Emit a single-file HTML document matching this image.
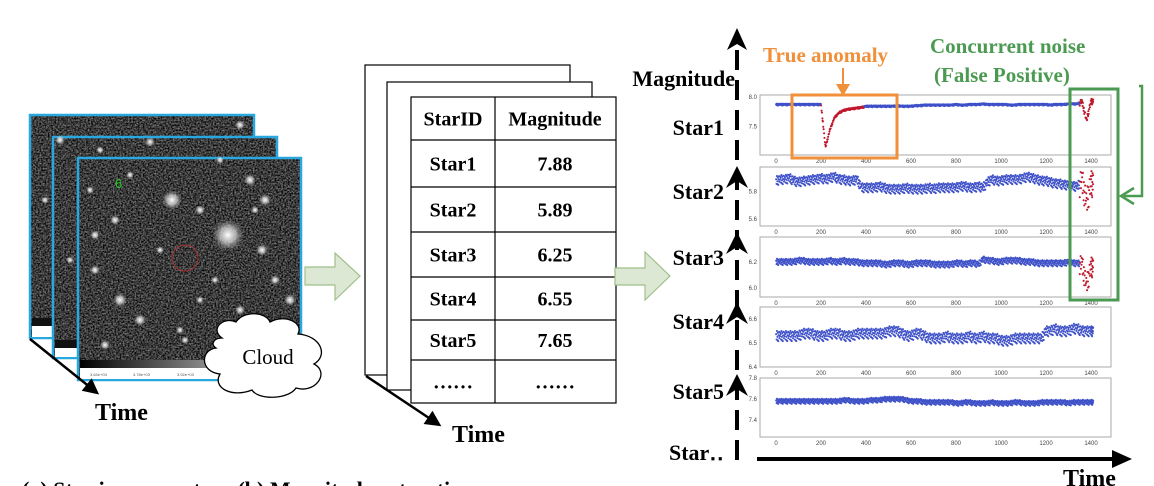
<!DOCTYPE html>
<html><head><meta charset="utf-8"><style>
html,body{margin:0;padding:0;background:#fff;width:1154px;height:486px;overflow:hidden}
svg{display:block;font-family:"Liberation Serif",serif}
.b{font-weight:bold}
</style></head><body>
<svg id="fig" width="1154" height="486" viewBox="0 0 1154 486">
<defs>
<marker id="ahb" markerWidth="16" markerHeight="16" refX="12" refY="8" orient="auto" markerUnits="userSpaceOnUse"><path d="M0,0 L16,8 L0,16 Z" fill="#000"/></marker>
<linearGradient id="cbar"><stop offset="0" stop-color="#000"/><stop offset="1" stop-color="#eee"/></linearGradient>
<radialGradient id="glow"><stop offset="0" stop-color="#fff"/><stop offset="0.5" stop-color="#ddd" stop-opacity="0.7"/><stop offset="1" stop-color="#888" stop-opacity="0"/></radialGradient>
<filter id="grain" x="0" y="0" width="100%" height="100%" color-interpolation-filters="sRGB">
 <feTurbulence type="fractalNoise" baseFrequency="0.6" numOctaves="2" seed="5" result="t"/>
 <feColorMatrix in="t" type="matrix" values="0.9 0 0 0 -0.22  0.9 0 0 0 -0.22  0.9 0 0 0 -0.22  0 0 0 0 1"/>
</filter>
</defs>

<g>
 <rect x="30" y="115" width="224" height="223" fill="#333"/>
 <rect x="30" y="115" width="224" height="223" fill="#333" filter="url(#grain)"/>
 <rect x="30" y="115" width="224" height="223" fill="none" stroke="#29a8e0" stroke-width="2.5"/>
 <rect x="32" y="318" width="22" height="8" fill="#111"/>
 <rect x="32" y="326" width="22" height="11" fill="#fff"/>
 <rect x="53" y="137" width="224" height="221" fill="#333"/>
 <rect x="53" y="137" width="224" height="221" fill="#333" filter="url(#grain)"/>
 <rect x="53" y="137" width="224" height="221" fill="none" stroke="#29a8e0" stroke-width="2.5"/>
 <rect x="55" y="340" width="22" height="8" fill="#111"/>
 <rect x="55" y="348" width="22" height="9" fill="#fff"/>
 <rect x="78" y="158" width="223" height="222" fill="#333"/>
 <rect x="78" y="158" width="223" height="222" fill="#333" filter="url(#grain)"/>
 <rect x="78" y="158" width="223" height="222" fill="none" stroke="#29a8e0" stroke-width="2.5"/>
 <rect x="80" y="360" width="219" height="8" fill="url(#cbar)"/>
 <rect x="80" y="368" width="219" height="11" fill="#fff"/>
 <text x="90" y="376" font-size="4" fill="#555" font-family="Liberation Sans,sans-serif">3.64e+03</text>
 <text x="133" y="376" font-size="4" fill="#555" font-family="Liberation Sans,sans-serif">3.78e+03</text>
 <text x="177" y="376" font-size="4" fill="#555" font-family="Liberation Sans,sans-serif">3.92e+03</text>
 <g id="stars"></g>
 <text x="115" y="188" font-size="13" fill="#2c2" font-family="Liberation Sans,sans-serif">6</text>
 <circle cx="185" cy="258" r="13" fill="none" stroke="#a33" stroke-width="1"/>
</g>
<path d="M222,338 C210,330 222,316 236,322 C244,310 266,312 270,322 C284,314 304,322 298,334 C322,336 328,356 314,364 C330,372 316,394 296,388 C288,400 258,400 252,390 C232,398 212,388 220,374 C200,372 200,350 216,348 C210,344 214,338 222,338 Z" fill="#fff" stroke="#000" stroke-width="1.3"/>
<text x="268" y="364" font-size="21" text-anchor="middle">Cloud</text>
<line x1="30" y1="339" x2="96" y2="392" stroke="#000" stroke-width="2.5" marker-end="url(#ahb)"/>
<text x="95" y="420" font-size="24" class="b">Time</text>

<path d="M305,267 L335,267 L335,253 L360,276 L335,300 L335,285 L305,285 Z" fill="#dce8d3" stroke="#9fbf8a" stroke-width="1.2"/>

<g>
 <rect x="365" y="65" width="205" height="310" fill="#fff" stroke="#000" stroke-width="1.2"/>
 <rect x="387" y="82" width="205" height="308" fill="#fff" stroke="#000" stroke-width="1.2"/>
 <rect x="411" y="97" width="205" height="306" fill="#fff" stroke="#000" stroke-width="1.2"/>
 <line x1="495" y1="97" x2="495" y2="403" stroke="#000" stroke-width="1.2"/>
 <g id="tbl"></g>
</g>
<line x1="366" y1="376" x2="438" y2="424" stroke="#000" stroke-width="2.5" marker-end="url(#ahb)"/>
<text x="452" y="442" font-size="24" class="b">Time</text>

<path d="M615,268 L645,268 L645,252 L670,276 L645,300 L645,285 L615,285 Z" fill="#dce8d3" stroke="#9fbf8a" stroke-width="1.2"/>

<line x1="737" y1="460" x2="737" y2="45" stroke="#000" stroke-width="4" stroke-dasharray="20,10"/>
<path d="M727,50 L737,28 L747,50 L737,44 Z" fill="#000"/>
<path d="M726,188 L737,166 L748,188 L737,181 Z" fill="#000"/>
<path d="M726,254 L737,232 L748,254 L737,247 Z" fill="#000"/>
<path d="M726,324 L737,302 L748,324 L737,317 Z" fill="#000"/>
<path d="M726,396 L737,374 L748,396 L737,389 Z" fill="#000"/>
<text x="735" y="86" font-size="22" class="b" text-anchor="end">Magnitude</text>
<line x1="757" y1="459" x2="1118" y2="459" stroke="#000" stroke-width="4"/>
<path d="M1112,450 L1132,459 L1112,468 Z" fill="#000"/>
<text x="1063" y="486" font-size="24" class="b">Time</text>
<g id="labels"></g>
<g id="panels"></g>

<text x="763" y="62" font-size="21" class="b" fill="#f0903a">True anomaly</text>
<line x1="843" y1="68" x2="843" y2="88" stroke="#f0903a" stroke-width="2"/>
<path d="M836,84 L843,96 L850,84 Z" fill="#f0903a"/>
<rect x="792" y="95" width="105" height="63" fill="none" stroke="#f0903a" stroke-width="3"/>
<text x="930" y="53" font-size="21" class="b" fill="#4a9a52">Concurrent noise</text>
<text x="934" y="82" font-size="21" class="b" fill="#4a9a52">(False Positive)</text>
<rect x="1070" y="89" width="48" height="211" fill="none" stroke="#4a9a52" stroke-width="3"/>
<path d="M1139,86 L1142,86 L1142,196 L1124,196" fill="none" stroke="#4a9a52" stroke-width="2.5"/>
<path d="M1134,188 L1121,196 L1134,204" fill="none" stroke="#4a9a52" stroke-width="2.5"/>
<text x="22" y="497" font-size="22" class="b">(a) Star image capture    (b) Magnitude extraction</text>
</svg>
<script>
const NS="http://www.w3.org/2000/svg";
function mk(tag,attrs,parent){const e=document.createElementNS(NS,tag);for(const k in attrs)e.setAttribute(k,attrs[k]);parent.appendChild(e);return e;}

const starX=[228,172,120,95,262,280,140,200,250,115,160,215,290,105,265,185,240,60,45,70,100,150,240,220,130,90,200,275,180,230,95,255];
const starY=[235,200,300,270,250,330,320,210,180,220,250,280,300,345,200,340,310,140,200,260,150,142,125,160,175,190,300,280,330,330,235,210];
const starR=[16,10,7,5,6,6,6,5,6,5,4,4,6,5,6,4,5,5,4,4,4,5,5,4,4,4,4,5,4,5,5,4];
const sg=document.getElementById('stars');
for(let i=0;i<starX.length;i++){const c=mk('circle',{cx:starX[i],cy:starY[i],r:starR[i],fill:'url(#glow)'},sg);

}

const tblIds=["StarID","Star1","Star2","Star3","Star4","Star5","……"];
const tblMags=["Magnitude","7.88","5.89","6.25","6.55","7.65","……"];
const tg=document.getElementById('tbl');
const rowTop=[97,140,187,232,277,320,360,403];
for(let i=0;i<tblIds.length;i++){
 if(i>0){mk('line',{x1:411,x2:616,y1:rowTop[i],y2:rowTop[i],stroke:'#000','stroke-width':1.2},tg);}
 const cy=(rowTop[i]+rowTop[i+1])/2+7;
 const a=mk('text',{x:453,y:cy,'font-size':20,'font-weight':'bold','text-anchor':'middle'},tg);a.textContent=tblIds[i];
 
 
 const b=mk('text',{x:555,y:cy,'font-size':20,'font-weight':'bold','text-anchor':'middle'},tg);b.textContent=tblMags[i];
 
 
}

const starLabels=["Star1","Star2","Star3","Star4","Star5","Star‥"];
const labelY=[135,199,265,329,399,460];
const lg=document.getElementById('labels');
for(let i=0;i<starLabels.length;i++){const t=mk('text',{x:724,y:labelY[i],'font-size':22,'font-weight':'bold','text-anchor':'end'},lg);t.textContent=starLabels[i];

}

const times=[0,20,40,60,80,100,120,140,160,180,200,220,240,260,280,300,320,340,360,380,400,420,440,460,480,500,520,540,560,580,600,620,640,660,680,700,720,740,760,780,800,820,840,860,880,900,920,940,960,980,1000,1020,1040,1060,1080,1100,1120,1140,1160,1180,1200,1220,1240,1260,1280,1300,1320,1340,1360,1380,1400];
const star1=[7.87,7.87,7.87,7.87,7.87,7.87,7.87,7.87,7.87,7.87,7.87,7.15,7.45,7.65,7.73,7.77,7.79,7.80,7.81,7.82,7.84,7.84,7.84,7.84,7.84,7.84,7.84,7.85,7.84,7.84,7.84,7.85,7.85,7.86,7.86,7.86,7.86,7.86,7.86,7.86,7.87,7.86,7.86,7.87,7.87,7.87,7.88,7.87,7.87,7.87,7.87,7.87,7.86,7.86,7.87,7.87,7.87,7.87,7.87,7.87,7.87,7.86,7.87,7.87,7.87,7.88,7.88,7.88,7.92,7.60,7.92];
const star2=[5.88,5.89,5.89,5.90,5.88,5.87,5.88,5.88,5.89,5.89,5.90,5.89,5.90,5.91,5.89,5.89,5.88,5.88,5.89,5.83,5.83,5.83,5.83,5.84,5.83,5.82,5.82,5.82,5.82,5.83,5.82,5.82,5.82,5.82,5.83,5.82,5.83,5.83,5.83,5.83,5.83,5.84,5.84,5.83,5.83,5.84,5.83,5.87,5.89,5.88,5.88,5.89,5.89,5.89,5.89,5.90,5.91,5.90,5.89,5.88,5.88,5.87,5.86,5.86,5.85,5.85,5.84,5.84,5.88,5.72,5.86];
const star3=[6.20,6.20,6.20,6.20,6.20,6.21,6.21,6.20,6.20,6.20,6.20,6.20,6.21,6.20,6.20,6.21,6.20,6.20,6.20,6.19,6.19,6.19,6.19,6.19,6.18,6.18,6.19,6.19,6.19,6.18,6.18,6.19,6.19,6.19,6.19,6.18,6.18,6.18,6.18,6.18,6.19,6.19,6.18,6.19,6.19,6.18,6.22,6.21,6.21,6.20,6.20,6.21,6.21,6.21,6.21,6.20,6.20,6.20,6.19,6.19,6.19,6.19,6.19,6.19,6.19,6.20,6.19,6.19,6.18,6.02,6.16];
const star4=[6.53,6.53,6.53,6.53,6.53,6.53,6.54,6.54,6.54,6.53,6.53,6.53,6.54,6.54,6.54,6.53,6.53,6.53,6.54,6.54,6.54,6.54,6.54,6.54,6.54,6.55,6.55,6.55,6.54,6.53,6.53,6.54,6.54,6.53,6.52,6.52,6.52,6.52,6.53,6.52,6.52,6.52,6.52,6.53,6.52,6.52,6.53,6.52,6.52,6.52,6.51,6.51,6.51,6.52,6.52,6.52,6.52,6.52,6.52,6.52,6.55,6.55,6.56,6.55,6.55,6.55,6.56,6.56,6.55,6.55,6.55];
const star5=[7.58,7.58,7.58,7.58,7.58,7.58,7.58,7.58,7.58,7.58,7.58,7.58,7.58,7.58,7.58,7.59,7.59,7.58,7.58,7.58,7.58,7.59,7.59,7.59,7.60,7.60,7.60,7.60,7.60,7.59,7.58,7.58,7.58,7.57,7.57,7.57,7.57,7.57,7.57,7.57,7.56,7.56,7.57,7.57,7.56,7.56,7.56,7.56,7.57,7.56,7.56,7.56,7.56,7.57,7.57,7.56,7.56,7.56,7.56,7.57,7.57,7.57,7.57,7.57,7.57,7.56,7.57,7.57,7.57,7.57,7.57];
const anomalyStart=[[200,1350],[1350],[1350],[],[]];
const anomalyEnd=[[390,1420],[1420],[1420],[],[]];
const series=[star1,star2,star3,star4,star5];
const spreads=[0.016,0.035,0.025,0.022,0.025];
const redSpreads=[0.05,0.1,0.08,0,0];
const yTicks=[[8.0,7.5],[5.8,5.6],[6.2,6.0],[6.6,6.5,6.4],[7.8,7.6,7.4]];
const yMins=[7.02,5.55,5.93,6.4,7.24];
const yMaxs=[8.03,5.98,6.39,6.65,7.8];
const xTicks=[0,200,400,600,800,1000,1200,1400];
const panelTop=[95,167,237,307,378];
const panelBot=[155,226,297,367,437];
const frac=[0.03,0.13,0.21,0.32,0.41,0.5,0.58,0.69,0.77,0.88,0.95,0.36];
const jy=[0.3,-0.7,0.9,-0.2,0.55,-1.0,0.1,0.75,-0.45,-0.05,0.6,-0.85];

const pg=document.getElementById('panels');
const X=t=>776+t*(315/1400);
for(let p=0;p<5;p++){
 const Y=v=>panelBot[p]-(v-yMins[p])/(yMaxs[p]-yMins[p])*(panelBot[p]-panelTop[p]);
 const g=mk('g',{},pg);
 
 
 const fr=mk('rect',{x:760,y:panelTop[p],width:351,height:panelBot[p]-panelTop[p],fill:'#fff',stroke:'#aaa','stroke-width':1},g);
 
 
 xTicks.forEach(t=>{const tx=mk('text',{x:X(t),y:panelBot[p]+8,'font-size':6,fill:'#444','text-anchor':'middle','font-family':'Liberation Sans,sans-serif'},g);tx.textContent=t;
  
  });
 yTicks[p].forEach(v=>{const tx=mk('text',{x:757,y:Y(v)+2,'font-size':6,fill:'#444','text-anchor':'end','font-family':'Liberation Sans,sans-serif'},g);tx.textContent=v.toFixed(1);
  
  });
 const d=series[p];
 for(let i=0;i<d.length;i++){
  const last=i===d.length-1;
  for(let j=0;j<frac.length;j++){
   const f=last?frac[j]*0.5:frac[j];
   const t=times[i]+f*20;
   let red=false;
   for(let k=0;k<anomalyStart[p].length;k++){if(t>=anomalyStart[p][k]&&t<=anomalyEnd[p][k])red=true;}
   const base=last?d[i]:d[i]+(d[i+1]-d[i])*f;
   const sp=red&&redSpreads[p]>0&&times[i]>1300?redSpreads[p]:spreads[p];
   const v=base+jy[j]*sp;
   const c=mk('circle',{cx:X(t),cy:Y(v),r:1.05,fill:red?'#c0172b':'#3f51c8'},g);
   
   
  }
 }
}
</script>
</body></html>
